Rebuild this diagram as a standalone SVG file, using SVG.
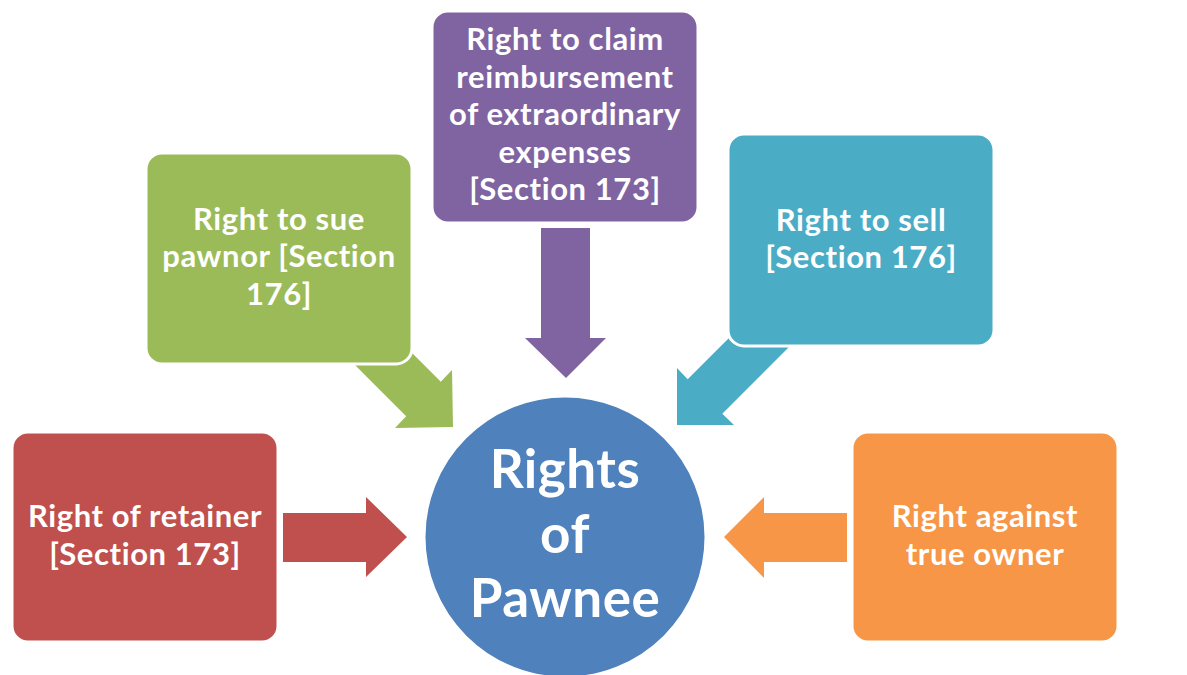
<svg xmlns="http://www.w3.org/2000/svg" width="1187" height="675" viewBox="0 0 1187 675">
<style>
.box{stroke:#fff;stroke-width:3}
.t{font-family:Lato,"Liberation Sans",sans-serif;font-weight:bold;fill:#fff;text-anchor:middle;font-size:31px;letter-spacing:0.6px}
.big{font-size:53px;letter-spacing:0.5px}
</style>
<rect width="1187" height="675" fill="#fff"/>
<g id="connectors">
<polygon fill="#C0504D" points="283,513 366,513 366,497 407,537 366,577 366,562 283,562"/>
<polygon fill="#F79646" points="847,513 764,513 764,497 724,537 764,578 764,562 847,562"/>
<polygon fill="#8064A2" points="541,228 590,228 590,338 606,338 566,378 525,338 541,338"/>
<polygon fill="#9BBB59" points="363,304 440.8,381.7 452,370 453,427 395,428 406.2,416.3 328,338"/>
<polygon fill="#4BACC6" points="765.5,301.4 687.7,379.2 677,368 677,425 734,425 722.3,413.8 800,336"/>
</g>
<g id="n-red"><rect class="box" x="12" y="432" width="266" height="210" rx="16" fill="#C0504D"/>
<text class="t" x="145" y="527">Right of retainer</text><text class="t" x="145" y="565">[Section 173]</text></g>
<g id="n-green"><rect class="box" x="146" y="153" width="266" height="211" rx="16" fill="#9BBB59"/>
<text class="t" x="279" y="230">Right to sue</text><text class="t" x="279" y="267">pawnor [Section</text><text class="t" x="279" y="305">176]</text></g>
<g id="n-purple"><rect class="box" x="432" y="11" width="266" height="212" rx="16" fill="#8064A2"/>
<text class="t" x="565" y="50">Right to claim</text><text class="t" x="565" y="88">reimbursement</text><text class="t" x="565" y="125">of extraordinary</text><text class="t" x="565" y="163">expenses</text><text class="t" x="565" y="200">[Section 173]</text></g>
<g id="n-cyan"><rect class="box" x="728" y="134" width="266" height="212" rx="16" fill="#4BACC6"/>
<text class="t" x="861" y="231">Right to sell</text><text class="t" x="861" y="268">[Section 176]</text></g>
<g id="n-orange"><rect class="box" x="852" y="432" width="266" height="210" rx="16" fill="#F79646"/>
<text class="t" x="985" y="527">Right against</text><text class="t" x="985" y="565">true owner</text></g>
<g id="n-center"><circle cx="565" cy="537" r="141" fill="#4F81BD" stroke="#fff" stroke-width="3"/>
<text class="t big" x="565" y="488">Rights</text><text class="t big" x="565" y="553">of</text><text class="t big" x="565" y="617">Pawnee</text></g>
</svg>
